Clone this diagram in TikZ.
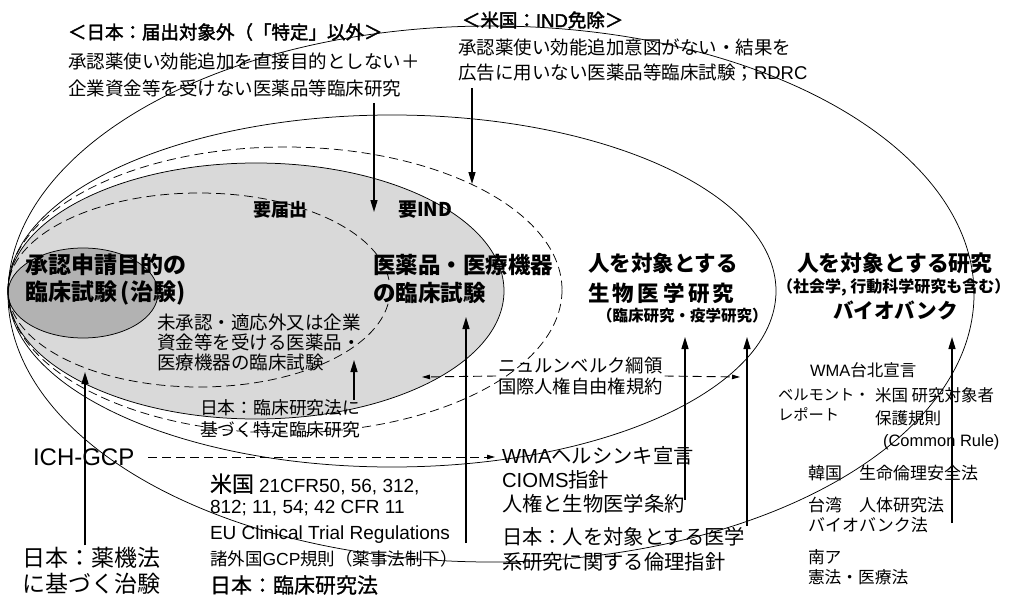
\documentclass[tikz,border=0pt]{standalone}
\usepackage{fontspec}
\setmainfont{Noto Sans CJK JP}
\newfontfamily\lat{Liberation Sans}
\newfontfamily\jpmed[FakeBold=2]{Noto Sans CJK JP}
\newfontfamily\jplt[FakeBold=0.8]{Noto Sans CJK JP}
\newfontfamily\latmed[FakeBold=2]{Liberation Sans}
\usetikzlibrary{arrows.meta}
\newcommand\fs[1]{\fontsize{#1}{#1}\selectfont}
\newcommand\lsp{\hspace{3.5pt}}
\begin{document}
\begin{tikzpicture}[x=1pt,y=-1pt,
  every node/.style={inner sep=0pt,outer sep=0pt,anchor=west},
  ln/.style={line width=0.75pt},
  dln/.style={line width=0.75pt,dash pattern=on 9pt off 5pt},
  arr/.style={line width=1.4pt,-{Triangle[length=12pt,width=7pt]}},
  darr/.style={line width=0.9pt,dash pattern=on 9pt off 5pt,-{Triangle[length=8pt,width=4.5pt]}},
  hdr/.style={font=\jpmed\fs{18.5}},
  body/.style={font=\fs{18.5}},
  bigb/.style={font=\bfseries\fs{23}},
  midb/.style={font=\bfseries\fs{21.5}},
  smb/.style={font=\bfseries\fs{16}},
  sm/.style={font=\fs{16.5}},
  mid/.style={font=\fs{20.3}},
  latn/.style={font=\lat\fs{19}}]
\useasboundingbox (0,0) rectangle (1022,599);
\fill[white] (0,0) rectangle (1022,599);
% regions
\fill[black!15] (256,291) ellipse [x radius=248, y radius=128];
\fill[black!30] (83,293) ellipse [x radius=75, y radius=45];
\draw[ln] (491,294) ellipse [x radius=483, y radius=268];
\draw[ln] (392,291) ellipse [x radius=384, y radius=176];
\draw[dln] (285,290) ellipse [x radius=277, y radius=143];
\draw[ln] (256,291) ellipse [x radius=248, y radius=128];
\draw[dln] (199,290) ellipse [x radius=191, y radius=97];
\draw[ln] (83,293) ellipse [x radius=75, y radius=45];
% header texts
\node[hdr] (jL1) at (68,32) {＜日本：届出対象外（「特定」以外＞};
\node[body] (jL2) at (68,61) {承認薬使い効能追加を直接目的としない＋};
\node[body] (jL3) at (68,88) {企業資金等を受けない医薬品等臨床研究};
\node[hdr] (jR1) at (462,20) {＜米国：{\latmed IND}免除＞};
\node[body] (jR2) at (458,47) {承認薬使い効能追加意図がない・結果を};
\node[body] (jR3) at (458,73) {広告に用いない医薬品等臨床試験；{\lat RDRC}};
\coordinate (s1) at (374,103);
\coordinate (t1) at (374,212);
\coordinate (s2) at (472,88);
\coordinate (t2) at (472,184);
\draw[arr] (s1) -- (t1);
\draw[arr] (s2) -- (t2);
% labels in gray
\node[font=\bfseries\fs{18}] (yotodoke) at (253,210) {要届出};
\node[font=\bfseries\fs{19}] (yoind) at (398,210) {要IND};
\node[bigb] (chiken1) at (25,265) {承認申請目的の};
\node[bigb] (chiken2) at (25,293) {臨床試験\,(治験)};
\node[font=\bfseries\fs{22.5}] (iyaku1) at (373,265) {医薬品・医療機器};
\node[font=\bfseries\fs{22.5}] (iyaku2) at (373,293) {の臨床試験};
\node[body] (mis1) at (157,322) {未承認・適応外又は企業};
\node[body] (mis2) at (157,342) {資金等を受ける医薬品・};
\node[body] (mis3) at (157,362) {医療機器の臨床試験};
% biomedical
\node[midb] (bio1) at (588,263) {人を対象とする};
\node[midb] (bio2) at (588,293) {生\lsp 物\lsp 医\lsp 学\lsp 研\lsp 究};
\node[font=\bfseries\fs{15.5}] (bio3) at (597,316) {（臨床研究・疫学研究）};
\node[font=\bfseries\fs{21.8}] (hum1) at (797,263) {人を対象とする研究};
\node[smb] (hum2) at (777,287) {（社会学, 行動科学研究も含む）};
\node[font=\bfseries\fs{20.6}] (hum3) at (833,310) {バイオバンク};
% Nuremberg
\node[font=\fs{18.3},align=left] (nur) at (498,376) {ニュルンベルク綱領\\[3.5pt]国際人権自由権規約};
\coordinate (nl) at (422,377);
\coordinate (nr) at (740,377);
\draw[darr] ([xshift=-2pt]nur.west) -- (nl);
\draw[darr] ([xshift=2pt]nur.east) -- (nr);
% right column
\node[sm] (taipei) at (810,370) {{\lat WMA}台北宣言};
\node[font=\fs{15.3}] (bel1) at (778,395) {ベルモント・};
\node[font=\fs{15.3}] (bel2) at (778,414) {レポート};
\node[sm] (cr1) at (875,395) {米国 研究対象者};
\node[sm] (cr2) at (875,418) {保護規則};
\node[sm] (cr3) at (883,442) {{\lat (Common Rule)}};
\node[font=\fs{17}] (kor) at (808,473) {韓国　生命倫理安全法};
\node[font=\fs{17}] (tw1) at (808,505) {台湾　人体研究法};
\node[font=\fs{17}] (tw2) at (808,525) {バイオバンク法};
\node[font=\fs{16.7}] (sa1) at (808,557) {南ア};
\node[font=\fs{16.7}] (sa2) at (808,577) {憲法・医療法};
\coordinate (s9) at (952,523);
\coordinate (t9) at (952,337);
\draw[arr] (s9) -- (t9);
% bottom left
\node[font=\fs{17.8}] (rk1) at (200,408) {日本：臨床研究法に};
\node[font=\fs{17.8}] (rk2) at (200,430) {基づく特定臨床研究};
\coordinate (t3) at (354,360);
\draw[arr] (rk1.north -| t3) -- (t3);
\node[font=\lat\fs{24}] (ich) at (33,457) {ICH-GCP};
\node[font=\fs{23}] (yak1) at (22,558) {日本：薬機法};
\node[font=\fs{23}] (yak2) at (22,584) {に基づく治験};
\coordinate (t4) at (85,372);
\draw[arr] (yak1.north -| t4) ++(0,-2) -- (t4);
\node (us1) at (210,484) {{\jplt\fs{22}米国}\hspace{5pt}{\lat\fs{19}21CFR50, 56, 312,}};
\node[latn] (us2) at (210,508) {812; 11, 54; 42 CFR 11};
\node[latn] (eu) at (210,535) {EU Clinical Trial Regulations};
\node[font=\fs{17.5}] (gcp) at (210,559) {諸外国{\lat GCP}規則（薬事法制下）};
\node[font=\jplt\fs{21}] (rkh) at (210,585) {日本：臨床研究法};
\coordinate (s5) at (466,543);
\coordinate (t5) at (466,317);
\draw[arr] (s5) -- (t5);
% WMA block
\node[mid] (wma1) at (502,456) {{\lat WMA}ヘルシンキ宣言};
\node[mid] (wma2) at (502,480) {{\lat CIOMS}指針};
\node[mid] (wma3) at (502,504) {人権と生物医学条約};
\node[mid] (eth1) at (502,537) {日本：人を対象とする医学};
\node[mid] (eth2) at (502,562) {系研究に関する倫理指針};
\draw[darr] ([xshift=14pt]ich.east) -- ([xshift=-7pt]ich.east -| wma1.west);
\coordinate (s6) at (685,500);
\coordinate (t6) at (685,337);
\coordinate (s7) at (747,526);
\coordinate (t7) at (747,337);
\draw[arr] (s6) -- (t6);
\draw[arr] (s7) -- (t7);
\end{tikzpicture}
\end{document}
